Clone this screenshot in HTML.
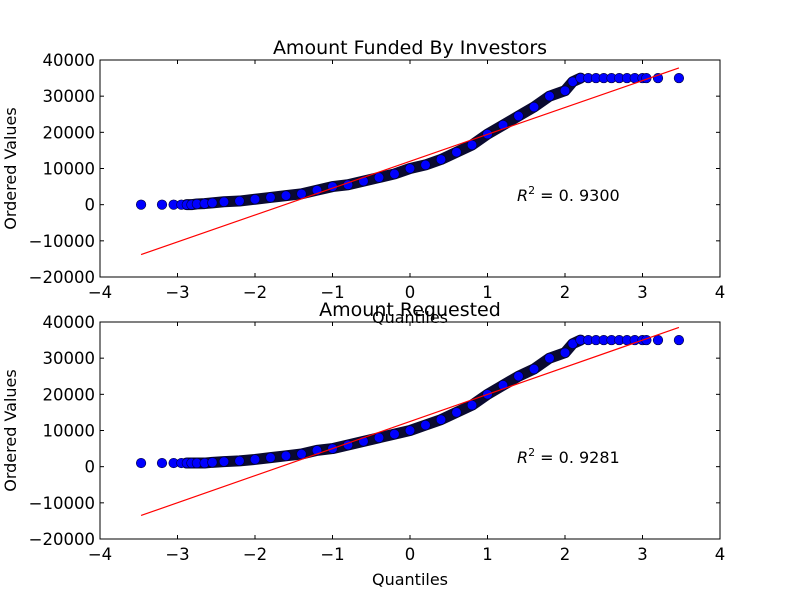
<!DOCTYPE html>
<html><head><meta charset="utf-8">
<style>body{margin:0;background:#fff}svg{display:block}text{font-family:"DejaVu Sans","Liberation Sans",sans-serif}</style>
</head><body>
<svg id="fig" width="800" height="600" viewBox="0 0 800 600" xmlns="http://www.w3.org/2000/svg"></svg>
<script>
const xTicks=[-4,-3,-2,-1,0,1,2,3,4];
const yTicks=[-20000,-10000,0,10000,20000,30000,40000];
const q1=[-3.47,-3.2,-3.05,-2.95,-2.88,-2.82,-2.75,-2.65,-2.55,-2.4,-2.2,-2.0,-1.8,-1.6,-1.4,-1.2,-1.0,-0.8,-0.6,-0.4,-0.2,0,0.2,0.4,0.6,0.8,1.0,1.2,1.4,1.6,1.8,2.0,2.1,2.2,2.3,2.4,2.5,2.6,2.7,2.8,2.9,3.0,3.05,3.2,3.47];
const v1=[0,0,0,0,0,0,200,300,500,800,1000,1500,2000,2500,3000,4000,5000,5500,6500,7500,8500,10000,11000,12500,14500,16500,19500,22000,24500,27000,30000,31500,34000,35000,35000,35000,35000,35000,35000,35000,35000,35000,35000,35000,35000];
const q2=q1;
const v2=[1000,1000,1000,1000,1000,1000,1000,1000,1200,1400,1600,2000,2500,3000,3500,4500,5000,6000,7000,8000,9000,10000,11500,13000,15000,17000,20000,22500,25000,27000,30000,31500,34000,35000,35000,35000,35000,35000,35000,35000,35000,35000,35000,35000,35000];
const fit1=[[-3.47,-13800],[3.47,37800]];
const fit2=[[-3.47,-13500],[3.47,38500]];
const panels=[
 {top:60,title:"Amount Funded By Investors",q:q1,v:v1,fit:fit1,r:"0.9300",name:"funded"},
 {top:322,title:"Amount Requested",q:q2,v:v2,fit:fit2,r:"0.9281",name:"requested"}];
const NS="http://www.w3.org/2000/svg";
const svg=document.getElementById('fig');
function mk(t,a,p){const e=document.createElementNS(NS,t);for(const k in a)e.setAttribute(k,a[k]);(p||svg).appendChild(e);return e;}
const L=100,R=720,H=217;
panels.forEach(p=>{
 const X=x=>L+(x+4)/8*(R-L);
 const Y=y=>p.top+(40000-y)/60000*H;
 const g=mk('g',{});
 
 
 const dense=p.q.map((q,i)=>[q,p.v[i]]).filter(d=>d[0]>=-2.9&&d[0]<=2.2);
 const pl=mk('polyline',{points:dense.map(d=>X(d[0])+','+Y(d[1])).join(' '),fill:'none',stroke:'#0a0a30','stroke-width':11,'stroke-linejoin':'round','stroke-linecap':'round'},g);
 
 
 p.q.forEach((q,i)=>{
  const c=mk('circle',{cx:X(q),cy:Y(p.v[i]),r:4.8,fill:'#0000ff',stroke:'#000033','stroke-width':0.6},g);
  
  
 });
 const fl=mk('line',{x1:X(p.fit[0][0]),y1:Y(p.fit[0][1]),x2:X(p.fit[1][0]),y2:Y(p.fit[1][1]),stroke:'#ff0000','stroke-width':1.2},g);
 
 
 const fr=mk('rect',{x:L,y:p.top,width:R-L,height:H,fill:'none',stroke:'#000','stroke-width':1},g);
 
 
 xTicks.forEach(t=>{
  mk('line',{x1:X(t),x2:X(t),y1:p.top+H,y2:p.top+H-4,stroke:'#000'},g);
  mk('line',{x1:X(t),x2:X(t),y1:p.top,y2:p.top+4,stroke:'#000'},g);
  const tx=mk('text',{x:X(t),y:p.top+H+21,'text-anchor':'middle','font-size':16.5},g);
  tx.textContent=t<0?'\u2212'+(-t):t;
  
  
 });
 yTicks.forEach(t=>{
  mk('line',{x1:L,x2:L+4,y1:Y(t),y2:Y(t),stroke:'#000'},g);
  mk('line',{x1:R,x2:R-4,y1:Y(t),y2:Y(t),stroke:'#000'},g);
  const ty=mk('text',{x:L-5,y:Y(t)+6,'text-anchor':'end','font-size':16.5},g);
  ty.textContent=t<0?'\u2212'+(-t):t;
  
  
 });
 const ti=mk('text',{x:(L+R)/2,y:p.top-6,'text-anchor':'middle','font-size':19},g);
 ti.textContent=p.title;
 
 
 const xl=mk('text',{x:(L+R)/2,y:p.top+H+46,'text-anchor':'middle','font-size':16},g);
 xl.textContent='Quantiles';
 
 
 const yl=mk('text',{x:0,y:0,'text-anchor':'middle','font-size':16,transform:`translate(16,${p.top+H/2}) rotate(-90)`},g);
 yl.textContent='Ordered Values';
 
 
 const rt=mk('text',{x:X(1.38),y:Y(1000),'font-size':16,'font-family':'"DejaVu Serif","Liberation Serif",serif'},g);
 rt.innerHTML='<tspan font-style="italic">R</tspan><tspan dy="-7" font-size="11">2</tspan><tspan dy="7"> = 0. '+p.r.slice(2)+'</tspan>';
 
 
});
</script>
</body></html>
